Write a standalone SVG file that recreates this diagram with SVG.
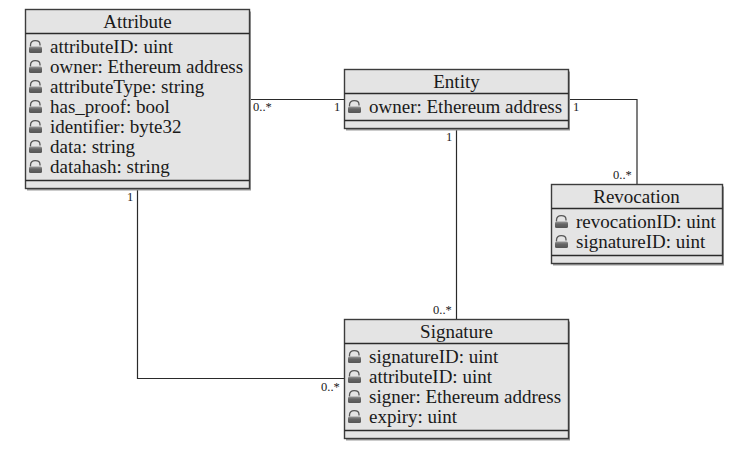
<svg xmlns="http://www.w3.org/2000/svg" width="738" height="452" viewBox="0 0 738 452">
<style>
.box{fill:#e4e4e4;stroke:#3c3c3c;stroke-width:1.4}
.shadow{fill:#999}
.sep{stroke:#2a2a2a;stroke-width:1.3;fill:none}
.conn{stroke:#2a2a2a;stroke-width:1.2;fill:none}
text{font-family:"Liberation Serif","Times New Roman",serif;fill:#1a1a1a}
.title{font-size:19px;text-anchor:middle}
.attr{font-size:19px}
.mult{font-size:12.5px}
</style>
<defs>
<linearGradient id="lockfill" x1="0" y1="0" x2="0" y2="1">
<stop offset="0" stop-color="#999"/><stop offset=".4" stop-color="#666"/><stop offset="1" stop-color="#555"/>
</linearGradient>
<g id="lock">
<path d="M2.500 6.500V5C2.500 2 4.500 .7 7.200 .7S12 2 12 4.500V5.500" fill="none" stroke="#555" stroke-width="1.3"/>
<rect x="1" y="6.500" width="13" height="6.500" rx="1.500" fill="url(#lockfill)"/>
</g>
</defs>
<rect width="738" height="452" fill="#fff"/>
<g id="connectors">
<path class="conn" d="M250 99.500H344"/>
<path class="conn" d="M569 99.500H637V184"/>
<path class="conn" d="M456.500 129V319"/>
<path class="conn" d="M137.500 190V378.500H344"/>
<text class="mult" x="253" y="111">0..*</text>
<text class="mult" x="334" y="111">1</text>
<text class="mult" x="573" y="111">1</text>
<text class="mult" x="613" y="179">0..*</text>
<text class="mult" x="446" y="141">1</text>
<text class="mult" x="433" y="314">0..*</text>
<text class="mult" x="127" y="201">1</text>
<text class="mult" x="321" y="391">0..*</text>
</g>
<g id="attribute">
<rect class="shadow" x="27" y="11.500" width="224" height="179"/>
<rect class="box" x="25.500" y="9.500" width="224" height="179"/>
<path class="sep" d="M25.500 33.500H249.500M25.500 180.500H249.500"/>
<text class="title" x="137.500" y="28">Attribute</text>
<use href="#lock" x="28" y="40"/><text class="attr" x="50" y="53">attributeID: uint</text>
<use href="#lock" x="28" y="60"/><text class="attr" x="50" y="73">owner: Ethereum address</text>
<use href="#lock" x="28" y="80"/><text class="attr" x="50" y="93">attributeType: string</text>
<use href="#lock" x="28" y="100"/><text class="attr" x="50" y="113">has_proof: bool</text>
<use href="#lock" x="28" y="120"/><text class="attr" x="50" y="133">identifier: byte32</text>
<use href="#lock" x="28" y="140"/><text class="attr" x="50" y="153">data: string</text>
<use href="#lock" x="28" y="160"/><text class="attr" x="50" y="173">datahash: string</text>
</g>
<g id="entity">
<rect class="shadow" x="346" y="71.500" width="224" height="59"/>
<rect class="box" x="344.500" y="69.500" width="224" height="59"/>
<path class="sep" d="M344.500 93.500H568.500M344.500 120.500H568.500"/>
<text class="title" x="456.500" y="88">Entity</text>
<use href="#lock" x="347" y="100"/><text class="attr" x="369" y="113">owner: Ethereum address</text>
</g>
<g id="revocation">
<rect class="shadow" x="553" y="186.500" width="171" height="79"/>
<rect class="box" x="551.500" y="184.500" width="171" height="79"/>
<path class="sep" d="M551.500 208.500H722.500M551.500 255.500H722.500"/>
<text class="title" x="636.500" y="203">Revocation</text>
<use href="#lock" x="554" y="215"/><text class="attr" x="576" y="228">revocationID: uint</text>
<use href="#lock" x="554" y="235"/><text class="attr" x="576" y="248">signatureID: uint</text>
</g>
<g id="signature">
<rect class="shadow" x="346" y="321.500" width="224" height="119"/>
<rect class="box" x="344.500" y="319.500" width="224" height="119"/>
<path class="sep" d="M344.500 343.500H568.500M344.500 430.500H568.500"/>
<text class="title" x="456.500" y="338">Signature</text>
<use href="#lock" x="347" y="350"/><text class="attr" x="369" y="363">signatureID: uint</text>
<use href="#lock" x="347" y="370"/><text class="attr" x="369" y="383">attributeID: uint</text>
<use href="#lock" x="347" y="390"/><text class="attr" x="369" y="403">signer: Ethereum address</text>
<use href="#lock" x="347" y="410"/><text class="attr" x="369" y="423">expiry: uint</text>
</g>
</svg>
